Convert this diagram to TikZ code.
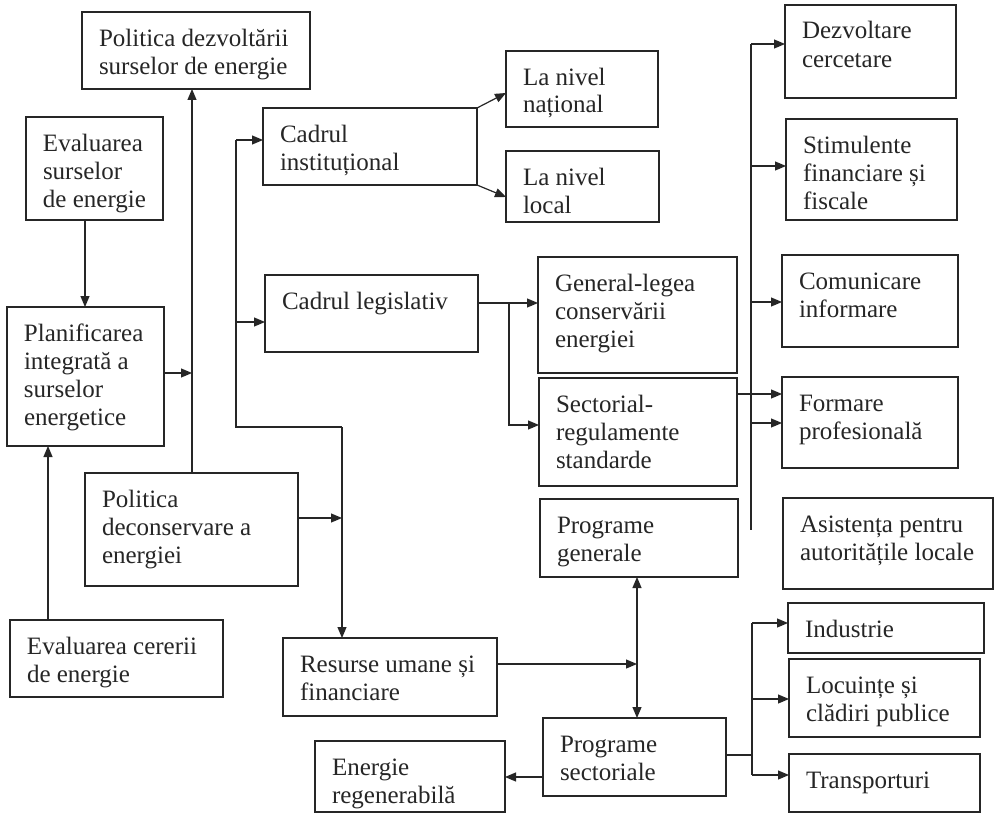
\documentclass[tikz,border=0pt]{standalone}
\usepackage{fontspec}
\setmainfont{Liberation Serif}
\usetikzlibrary{arrows.meta}
\definecolor{ink}{HTML}{262626}
\tikzset{
  boxst/.style={draw=ink, line width=1.2pt, inner sep=0pt, outer sep=0pt,
    font=\fontsize{25}{28}\selectfont, text=ink},
  conn/.style={draw=ink, line width=1.2pt},
  arr/.style={conn, -{Triangle[length=11pt,width=9pt]}},
  darr/.style={conn, {Triangle[length=11pt,width=9pt]}-{Triangle[length=11pt,width=9pt]}}
}
\newcommand\bx[6]{%
  \node[boxst, anchor=north west] (#1) at (#2,#3)
  {\parbox[b][\dimexpr#5pt-#3pt\relax][t]{\dimexpr#4pt-#2pt\relax}{\vspace*{14.4pt}\hspace*{17pt}\begin{tabular}[t]{@{}l@{}}#6\end{tabular}}};}
\begin{document}
\begin{tikzpicture}[x=1pt,y=-1pt]
\useasboundingbox[fill=white] (0,0) rectangle (994,816);
% boxes
\bx{pdz}{82}{12}{310}{89}{Politica dezvoltării\\surselor de energie}
\bx{evs}{26}{117}{163}{220}{Evaluarea\\surselor\\de energie}
\bx{plan}{7}{307}{164}{446}{Planificarea\\integrată a\\surselor\\energetice}
\bx{ci}{263}{108}{477}{185}{Cadrul\\instituțional}
\bx{cl}{265}{275}{478}{352}{Cadrul legislativ}
\bx{pdec}{85}{473}{298}{586}{Politica\\deconservare a\\energiei}
\bx{ecer}{10}{620}{223}{697}{Evaluarea cererii\\de energie}
\bx{res}{283}{638}{497}{716}{Resurse umane și\\financiare}
\bx{en}{315}{741}{505}{812}{Energie\\regenerabilă}
\bx{nat}{506}{51}{658}{127}{La nivel\\național}
\bx{loc}{506}{151}{659}{222}{La nivel\\local}
\bx{gen}{538}{257}{737}{373}{General-legea\\conservării\\energiei}
\bx{sect}{539}{378}{737}{486}{Sectorial-\\regulamente\\standarde}
\bx{dz}{785}{5}{956}{98}{Dezvoltare\\cercetare}
\bx{stim}{786}{119}{957}{220}{Stimulente\\financiare și\\fiscale}
\bx{com}{782}{255}{958}{347}{Comunicare\\informare}
\bx{form}{782}{377}{958}{468}{Formare\\profesională}
\bx{asis}{783}{498}{993}{589}{Asistența pentru\\autoritățile locale}
\bx{pg}{540}{499}{738}{577}{Programe\\generale}
\bx{ps}{543}{718}{726}{796}{Programe\\sectoriale}
\bx{ind}{788}{603}{984}{653}{Industrie}
\bx{locu}{789}{659}{980}{737}{Locuințe și\\clădiri publice}
\bx{tr}{789}{754}{980}{812}{Transporturi}
% left side
\draw[arr] (evs.south -| 85,0) -- (plan.north -| 85,0);
\draw[arr] (ecer.north -| 48,0) -- (plan.south -| 48,0);
\draw[arr] (pdec.north -| 192,0) -- (pdz.south -| 192,0);
\coordinate (tr1) at (192,373);
\draw[arr] (plan.east |- tr1) -- (tr1);
% branch to cadre and resources
\coordinate (b0) at (236,140);
\coordinate (b3) at (236,322);
\coordinate (b1) at (236,427);
\coordinate (b2) at (342,427);
\coordinate (b4) at (342,518);
\draw[arr] (b0) -- (b0 -| ci.west);
\draw[arr] (b3) -- (b3 -| cl.west);
\draw[conn] (b0) -- (b1) -- (b2);
\draw[arr] (b2) -- (b2 |- res.north);
\draw[arr] (pdec.east |- b4) -- (b4);
% institutional
\draw[arr] (ci.north east) -- (nat.west |- 0,93);
\draw[arr] (ci.south east) -- (loc.west |- 0,197);
% legislative
\coordinate (c1) at (509,303);
\coordinate (c2) at (509,425);
\draw[arr] (cl.east |- c1) -- (c1 -| gen.west);
\draw[arr] (c1) -- (c2) -- (c2 -| sect.west);
% right trunk
\coordinate (r0) at (751,44);
\coordinate (r1) at (751,166);
\coordinate (r2) at (751,302);
\coordinate (r3) at (751,423);
\coordinate (r4) at (751,530);
\draw[conn] (r0) -- (r4);
\draw[arr] (r0) -- (r0 -| dz.west);
\draw[arr] (r1) -- (r1 -| stim.west);
\draw[arr] (r2) -- (r2 -| com.west);
\draw[arr] (r3) -- (r3 -| form.west);
\draw[arr] (sect.east |- 0,394) -- (form.west |- 0,394);
% programmes
\coordinate (p1) at (637,664);
\draw[darr] (pg.south -| p1) -- (ps.north -| p1);
\draw[arr] (res.east |- p1) -- (p1);
\draw[arr] (ps.west |- 0,777) -- (en.east |- 0,777);
\coordinate (q0) at (752,623);
\coordinate (q1) at (752,699);
\coordinate (q2) at (752,775);
\coordinate (q3) at (752,755);
\draw[conn] (ps.east |- q3) -- (q3);
\draw[conn] (q0) -- (q2);
\draw[arr] (q0) -- (q0 -| ind.west);
\draw[arr] (q1) -- (q1 -| locu.west);
\draw[arr] (q2) -- (q2 -| tr.west);
\end{tikzpicture}
\end{document}
